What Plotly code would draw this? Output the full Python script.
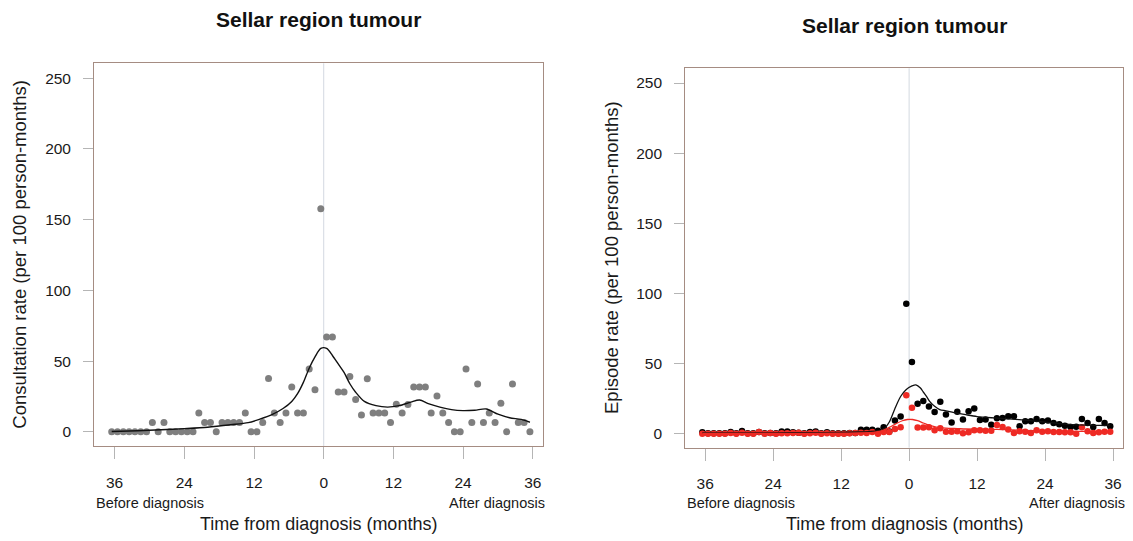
import plotly.graph_objects as go

# Month positions of the monthly rates (centred half a month before each month mark)
months = [-36.5 + i for i in range(73)]

# Consultation rate per 100 person-months (left panel)
consult_rate = [
    0, 0, 0, 0, 0, 0, 0, 6.7, 0, 6.7, 0, 0, 0, 0, 0, 13.3, 6.7, 6.7, 0, 6.7,
    6.7, 6.7, 6.7, 13.3, 0, 0, 6.7, 37.8, 13.3, 6.7, 13.3, 31.7, 13.3, 13.3,
    44.4, 29.8, 157.7,
    67, 67, 28.2, 28.2, 39.2, 22.8, 12, 37.6, 13.3, 13.3, 13.3, 6.7, 19.5, 13.3,
    19.4, 31.7, 31.7, 31.7, 13.3, 25.4, 13.3, 6.7, 0, 0, 44.4, 6.7, 33.8, 6.7,
    13.3, 6.7, 20.2, 0, 33.8, 6.7, 6.7, 0,
]

# Smoothed consultation rate
consult_smooth_months = [
    -36.5, -32, -28, -24, -20, -16, -13, -11, -9, -7, -5.5, -4.5, -3.5, -2.5,
    -1.5, -0.5, 0.5, 1.5, 2.5, 3.5, 4.5, 5.5, 7, 9, 11, 13, 15, 16.5, 18, 20,
    22, 24, 26, 28, 30, 32, 34, 35.5,
]
consult_smooth = [
    0.2, 0.8, 1.5, 2.3, 3.3, 5, 6.5, 9, 12, 16.5, 21.5, 27, 35, 45,
    53, 59, 59, 54, 48, 42, 34, 28, 21.5, 18.5, 17.5, 18.5, 21, 22.5, 20, 17.5,
    15.7, 15, 15.3, 16.2, 12.5, 10, 8.8, 6.8,
]

# Episode rates per 100 person-months (right panel)
episode_all = [
    1.0, 0.3, 0.3, 0.3, 0.3, 1.2, 0.3, 1.8, 0.3, 0.3, 1.2, 0.3, 0.5, 0.3, 1.5,
    1.5, 1.0, 0.6, 0.3, 1.2, 1.5, 0.3, 1.0, 0.3, 0.3, 0.3, 0.5, 0.5, 2.8, 2.8,
    2.8, 2.0, 4.5, 1.5, 9.3, 12.2, 92.6,
    51, 21.3, 23.2, 19.3, 15.4, 22.7, 13.7, 7.9, 15.7, 10, 15.9, 17.9, 9.8, 10,
    6.4, 11, 11.2, 12.4, 12.4, 5.2, 8.8, 8.8, 10.5, 8.8, 9.3, 7.6, 6.7, 5.7,
    4.8, 4.9, 10.5, 7.6, 4.8, 10.5, 7.6, 5.2,
]
episode_red = [
    0, 0, 0, 0, 0, 0.5, 0, 0.7, 0, 0, 1.2, 0, 0.4, 0, 0.3, 0.3, 0.4, 0.6, 0,
    0.3, 0.6, 0, 0.2, 0, 0, 0, 0.3, 0.4, 0.7, 0.4, 1.2, 0, 1.2, 1.2, 3.4, 4.5,
    27.4,
    18.5, 4.4, 4.4, 4.6, 2.4, 3.8, 1.4, 1.4, 1.7, 0.3, 1, 2.4, 2.4, 2.1, 2.1,
    6.2, 4.8, 2.9, 0.5, 1.7, 1.4, 0.5, 2.4, 1.4, 1.7, 1.2, 1.2, 1, 1, 0, 4.5,
    1.7, 0.5, 1, 1.4, 1.4,
]

# Smoothed episode rates
episode_all_smooth_months = [
    -36.5, -30, -24, -18, -12, -9, -7, -5.5, -4.5, -3.5, -2.5, -1.5, -0.5, 0.5,
    1.2, 2, 2.5, 3, 3.7, 4.5, 5.4, 6.5, 8.4, 10, 12, 15, 19.4, 24.3, 28.9,
    33.6, 35.5,
]
episode_all_smooth = [
    0.5, 0.5, 0.6, 0.7, 0.9, 1.2, 1.5, 2.0, 3.2, 8.3, 18, 26.5, 31.5, 34,
    34.8, 32.5, 29.7, 27, 22.6, 19.5, 17.2, 16.3, 14.7, 13.5, 12.2, 11.2, 10,
    8.1, 6.4, 5.9, 5.8,
]
episode_red_smooth_months = [
    -36.5, -24, -12, -8, -6, -4.6, -3.5, -2.3, -1.2, -0.3, 0.6, 1.5, 2.5, 3.5,
    4.8, 6.5, 8.5, 10, 13, 15.5, 18, 22, 26, 30, 35.5,
]
episode_red_smooth = [
    0.2, 0.2, 0.3, 0.5, 1.0, 2.4, 4.5, 7.1, 9.2, 10.1, 10.1, 9.2, 7.6, 6.0,
    4.7, 4.0, 3.6, 3.3, 3.0, 3.1, 2.7, 2.1, 1.8, 1.6, 1.6,
]

tick_vals = [-36, -24, -12, 0, 12, 24, 36]
tick_text = ["36", "24", "12", "0", "12", "24", "36"]
y_ticks = [0, 50, 100, 150, 200, 250]

FONT = "Liberation Sans, Arial, sans-serif"
BOX = "#a58c82"
TICK = "#b5b5b5"
RED = "#ee2a24"
GREY = "#7f7f7f"

fig = go.Figure()

# Left panel
fig.add_trace(go.Scatter(
    x=months, y=consult_rate, mode="markers",
    marker=dict(color=GREY, size=7), xaxis="x", yaxis="y", showlegend=False,
))
fig.add_trace(go.Scatter(
    x=consult_smooth_months, y=consult_smooth, mode="lines",
    line=dict(color="#111111", width=1.4, shape="spline", smoothing=0.8),
    xaxis="x", yaxis="y", showlegend=False,
))

# Right panel
fig.add_trace(go.Scatter(
    x=months, y=episode_all, mode="markers",
    marker=dict(color="#000000", size=6.5), xaxis="x2", yaxis="y2", showlegend=False,
))
fig.add_trace(go.Scatter(
    x=months, y=episode_red, mode="markers",
    marker=dict(color=RED, size=6.5), xaxis="x2", yaxis="y2", showlegend=False,
))
fig.add_trace(go.Scatter(
    x=episode_all_smooth_months, y=episode_all_smooth, mode="lines",
    line=dict(color="#111111", width=1.3, shape="spline", smoothing=0.8),
    xaxis="x2", yaxis="y2", showlegend=False,
))
fig.add_trace(go.Scatter(
    x=episode_red_smooth_months, y=episode_red_smooth, mode="lines",
    line=dict(color=RED, width=1.3, shape="spline", smoothing=0.8),
    xaxis="x2", yaxis="y2", showlegend=False,
))

xaxis_common = dict(
    range=[-39.5, 37.8], tickmode="array", tickvals=tick_vals, ticktext=tick_text,
    ticks="outside", ticklen=12, tickcolor=TICK, tickwidth=1,
    showgrid=False, zeroline=False, showline=True, linecolor=BOX, linewidth=1.3,
    mirror=True, ticklabelstandoff=10,
    tickfont=dict(family=FONT, size=15.5, color="#1a1a1a"),
)
yaxis_common = dict(
    range=[-10, 260.5], tickmode="array", tickvals=y_ticks,
    ticks="outside", ticklen=10, tickcolor=TICK, tickwidth=1,
    showgrid=False, zeroline=False, showline=True, linecolor=BOX, linewidth=1.3,
    mirror=True, ticklabelstandoff=9,
    tickfont=dict(family=FONT, size=15.5, color="#1a1a1a"),
)

fig.update_layout(
    width=1133, height=541,
    margin=dict(l=0, r=0, t=0, b=0),
    paper_bgcolor="white", plot_bgcolor="white",
    xaxis=dict(domain=[0.0832, 0.4795], anchor="y", **xaxis_common),
    yaxis=dict(domain=[0.1756, 0.883], anchor="x", **yaxis_common),
    xaxis2=dict(domain=[0.6049, 0.9914], anchor="y2", **xaxis_common),
    yaxis2=dict(domain=[0.1725, 0.8738], anchor="x2", **yaxis_common),
)

# Diagnosis reference line in each panel
for xr, yr in (("x", "y"), ("x2", "y2")):
    fig.add_shape(
        type="line", xref=xr, yref=f"{yr} domain", x0=0, x1=0, y0=0, y1=1,
        line=dict(color="#d3d9e1", width=1), layer="below",
    )

annotations = []
panels = [
    (0.0832, 0.4795, 0.883, 0.1756, "Consultation rate (per 100 person-months)", 20, 19),
    (0.6049, 0.9914, 0.8738, 0.1725, "Episode rate (per 100 person-months)", 612, 25),
]
for x0, x1, ytop, ybot, ylabel, ylab_px, title_px in panels:
    xc = (x0 + x1) / 2
    annotations.append(dict(
        text="<b>Sellar region tumour</b>", x=xc, y=1 - title_px / 541,
        xref="paper", yref="paper", xanchor="center", yanchor="middle", showarrow=False,
        font=dict(family=FONT, size=21, color="#111111"),
    ))
    annotations.append(dict(
        text="Before diagnosis", x=x0, y=1 - 503 / 541, xref="paper", yref="paper",
        xanchor="left", yanchor="middle", showarrow=False,
        font=dict(family=FONT, size=14.5, color="#1a1a1a"),
    ))
    annotations.append(dict(
        text="After diagnosis", x=x1 + 0.003, y=1 - 503 / 541, xref="paper", yref="paper",
        xanchor="right", yanchor="middle", showarrow=False,
        font=dict(family=FONT, size=14.5, color="#1a1a1a"),
    ))
    annotations.append(dict(
        text="Time from diagnosis (months)", x=xc, y=1 - 524 / 541, xref="paper", yref="paper",
        xanchor="center", yanchor="middle", showarrow=False,
        font=dict(family=FONT, size=18, color="#1a1a1a"),
    ))
    annotations.append(dict(
        text=ylabel, x=ylab_px / 1133, y=(ytop + ybot) / 2, xref="paper", yref="paper",
        xanchor="center", yanchor="middle", textangle=-90, showarrow=False,
        font=dict(family=FONT, size=18.5, color="#1a1a1a"),
    ))
fig.update_layout(annotations=annotations)

fig.write_html("out.html")
